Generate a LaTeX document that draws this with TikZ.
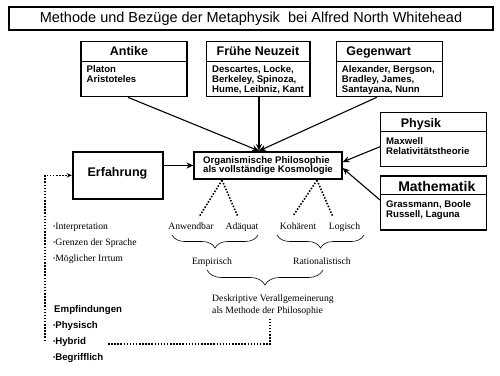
\documentclass[tikz,border=0pt]{standalone}
\usepackage{fontspec}
\setmainfont{Liberation Serif}
\newfontfamily\arial{Liberation Sans}
\usetikzlibrary{arrows.meta,decorations.pathreplacing}
\newcommand\mybul{{\fontsize{6}{6}\selectfont\raisebox{1pt}{•}}}
\begin{document}
\begin{tikzpicture}[x=1pt,y=-1pt,
  box/.style={draw, line width=1.3pt, inner sep=0pt},
  hdr/.style={font=\arial\bfseries\fontsize{12.5}{14}\selectfont, inner sep=0pt, anchor=base},
  cont/.style={font=\arial\bfseries\fontsize{9.6}{10.2}\selectfont, align=left, inner sep=0pt, anchor=north west},
  ser/.style={font=\fontsize{9.7}{11.5}\selectfont, inner sep=0pt, anchor=base},
  sbl/.style={font=\arial\bfseries\fontsize{9.7}{11.5}\selectfont, inner sep=0pt, anchor=base west},
  arr/.style={line width=1.1pt, -{Stealth[length=7pt,width=6pt]}},
  dots/.style={line width=1.6pt, dash pattern=on 1.5pt off 1.6pt},
  brc/.style={decorate, decoration={brace, mirror, amplitude=#1}, line width=0.6pt}
]
\fill[white] (0,0) rectangle (500,375);
\useasboundingbox (0,0) rectangle (500,375);

% title
\node[box, line width=1.4pt, minimum width=484pt, minimum height=23pt,
  font=\arial\fontsize{14.5}{16}\selectfont] (title) at (251,18.5)
  {Methode und Bezüge der Metaphysik\ \ bei Alfred North Whitehead};

% top boxes
\node[box, minimum width=106pt, minimum height=55pt] (antike) at (134,69.2) {};
\draw[line width=1pt] ([yshift=-20pt]antike.north west) -- ([yshift=-20pt]antike.north east);
\node[hdr] (antikeH) at (129,55.2) {Antike};
\node[cont] (antikeC) at (86.5,65.6) {Platon\\Aristoteles};

\node[box, minimum width=103.3pt, minimum height=55pt] (fruehe) at (258.3,69.2) {};
\draw[line width=1pt] ([yshift=-20pt]fruehe.north west) -- ([yshift=-20pt]fruehe.north east);
\node[hdr] (frueheH) at (258,55.2) {Frühe Neuzeit};
\node[cont] (frueheC) at (212,65.4) {Descartes, Locke,\\Berkeley, Spinoza,\\Hume, Leibniz, Kant};

\node[box, minimum width=106pt, minimum height=55pt] (gegen) at (389.7,69.2) {};
\draw[line width=1pt] ([yshift=-20pt]gegen.north west) -- ([yshift=-20pt]gegen.north east);
\node[hdr] (gegenH) at (378.7,55.2) {Gegenwart};
\node[cont] (gegenC) at (341.7,65.4) {Alexander, Bergson,\\Bradley, James,\\Santayana, Nunn};

% right boxes
\node[box, minimum width=106pt, minimum height=54pt] (phys) at (433.7,139.7) {};
\draw[line width=1pt] ([yshift=-19.6pt]phys.north west) -- ([yshift=-19.6pt]phys.north east);
\node[hdr] (physH) at (421,127.5) {Physik};
\node[cont] (physC) at (386,137.1) {Maxwell\\Relativitätstheorie};

\node[box, minimum width=106pt, minimum height=54pt] (math) at (433.7,203) {};
\draw[line width=1pt] ([yshift=-19pt]math.north west) -- ([yshift=-19pt]math.north east);
\node[hdr, font=\arial\bfseries\fontsize{14}{16}\selectfont] (mathH) at (436.8,191) {Mathematik};
\node[cont] (mathC) at (386,200.4) {Grassmann, Boole\\Russell, Laguna};

% central boxes
\node[box, line width=1.7pt, minimum width=147.4pt, minimum height=27.6pt,
  font=\arial\bfseries\fontsize{9.6}{9.2}\selectfont, align=left] (central) at (268,165.5)
  {Organismische Philosophie\\als vollständige Kosmologie};
\node[box, line width=1.8pt, minimum width=90.6pt, minimum height=47.3pt,
  font=\arial\bfseries\fontsize{12.5}{14}\selectfont] (erf) at (118,175.3) {};
\node[font=\arial\bfseries\fontsize{12.5}{14}\selectfont, inner sep=0pt, anchor=base] (erfT) at (117.5,176.5) {Erfahrung};

% arrows into central
\draw[arr] ([xshift=-6pt]antike.south) -- ([xshift=-9pt]central.north);
\draw[arr] ([xshift=0.7pt]fruehe.south) -- ([xshift=-9pt]central.north);
\draw[arr] ([xshift=-13pt]gegen.south) -- ([xshift=-9pt]central.north);
\draw[arr] ([yshift=-7pt]phys.west) -- ([yshift=3.5pt]central.east);
\draw[arr] ([yshift=3pt]math.west) -- ([yshift=-2.5pt]central.east);
\draw[arr] (erf.east |- central.west) -- (central.west);

% criteria
\node[ser] (anw) at (191,229.5) {Anwendbar};
\node[ser] (adq) at (242,229.5) {Adäquat};
\node[ser] (koh) at (298,229.5) {Kohärent};
\node[ser] (logi) at (344.5,229.5) {Logisch};
\coordinate (ap1) at ([xshift=-46pt]central.south);
\coordinate (ap2) at ([xshift=49pt]central.south);
\draw[dots] (ap1) -- (199,217);
\draw[dots] (ap1) -- (238,217);
\draw[dots] (ap2) -- (293,216);
\draw[dots] (ap2) -- (333,217);

\draw[brc=13pt] (172,235) -- (258,235);
\draw[brc=13pt] (277,235) -- (364,235);
\node[ser] (emp) at (212,264.5) {Empirisch};
\node[ser] (rat) at (322,264.5) {Rationalistisch};
\draw[brc=15pt] (207,270) -- (323,270);
\node[ser, anchor=base west] (desk1) at (212,301.5) {Deskriptive Verallgemeinerung};
\node[ser, anchor=base west] (desk2) at (212,313) {als Methode der Philosophie};

% left lists
\node[ser, anchor=base west] (li1) at (53,229.5) {\mybul Interpretation};
\node[ser, anchor=base west] (li2) at (53,245.5) {\mybul Grenzen der Sprache};
\node[ser, anchor=base west] (li3) at (53,261.5) {\mybul Möglicher Irrtum};

\node[sbl] (emf) at (54,312.5) {Empfindungen};
\node[sbl] (e1) at (53,328.5) {\mybul Physisch};
\node[sbl] (e2) at (53,344.5) {\mybul Hybrid};
\node[sbl] (e3) at (53,360.5) {\mybul Begrifflich};

% dotted connectors
\coordinate (lb) at (45,341);
\draw[dots, -{Stealth[length=5pt,width=4.5pt]}] (lb) |- (erf.west);
\coordinate (hb) at (108,344);
\draw[dots] (hb) -| (270,318);
\end{tikzpicture}
\end{document}
